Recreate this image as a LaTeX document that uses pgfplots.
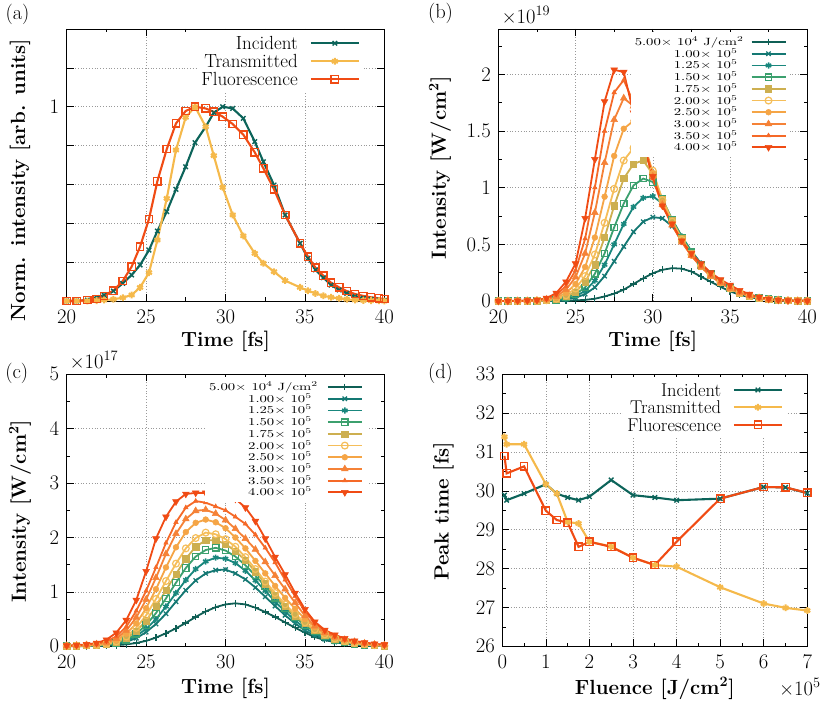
\documentclass[border=0pt]{standalone}
\usepackage{graphicx}
\usepackage{pgfplots}
\usepackage{pgfplotstable}
\pgfplotsset{compat=1.18}

\definecolor{cA}{RGB}{15,95,85}
\definecolor{cB}{RGB}{20,120,115}
\definecolor{cC}{RGB}{25,135,125}
\definecolor{cD}{RGB}{60,160,110}
\definecolor{cE}{RGB}{205,175,80}
\definecolor{cF}{RGB}{245,190,90}
\definecolor{cG}{RGB}{245,165,70}
\definecolor{cH}{RGB}{245,130,55}
\definecolor{cI}{RGB}{245,105,40}
\definecolor{cJ}{RGB}{240,75,20}
\definecolor{inc}{RGB}{12,100,90}
\definecolor{tra}{RGB}{245,185,75}
\definecolor{flu}{RGB}{240,75,20}

\newcommand{\lgt}[1]{\scalebox{1.4}[1]{#1}}
\newcommand{\sq}{\textsuperscript{2}}

\pgfplotsset{
 gp/.style={
  scale only axis, clip=false, height=272pt,
  axis line style={line width=0.9pt},
  tick align=inside, major tick length=7pt, minor tick length=3.5pt,
  tick style={black, line width=0.7pt},
  grid style={gray!80, line width=0.6pt, dash pattern=on 0.8pt off 2pt},
  tick label style={font=\fontsize{20.7}{22}\selectfont},
  /pgf/number format/assume math mode=true,
  label style={font=\bfseries\fontsize{20.5}{24}\selectfont},
  xticklabel style={yshift=-5pt},
  yticklabel style={xshift=-4pt},
  scaled ticks=false,
  legend cell align=right, legend plot pos=right,
 },
 leglong/.style={legend image code/.code={\draw[mark repeat=2,mark phase=2,##1] plot coordinates {(0pt,0pt) (24pt,0pt) (48pt,0pt)};}},
 legshort/.style={legend image code/.code={\draw[mark repeat=2,mark phase=2,##1] plot coordinates {(0pt,0pt) (17pt,0pt) (34pt,0pt)};}},
 sA/.style={color=cA, line width=1.8pt, mark=+, mark size=3.4pt, mark options={solid,line width=1.2pt}},
 sB/.style={color=cB, line width=1.8pt, mark=x, mark size=3.1pt, mark options={solid,line width=1.3pt}},
 sC/.style={color=cC, line width=1.8pt, mark=asterisk, mark size=3.1pt, mark options={solid,line width=1.5pt}},
 sD/.style={color=cD, line width=1.8pt, mark=square, mark size=3.2pt, mark options={solid,line width=1.2pt}},
 sE/.style={color=cE, line width=1.8pt, mark=square*, mark size=3.1pt, mark options={solid,line width=0.5pt}},
 sF/.style={color=cF, line width=1.8pt, mark=o, mark size=3.4pt, mark options={solid,line width=1.2pt}},
 sG/.style={color=cG, line width=1.8pt, mark=*, mark size=2.9pt, mark options={solid,line width=0.5pt}},
 sH/.style={color=cH, line width=1.8pt, mark=triangle*, mark size=3.9pt, mark options={solid,line width=0.5pt}},
 sI/.style={color=cI, line width=1.8pt, mark=triangle*, mark size=2.6pt, mark options={solid,line width=0.5pt}},
 sJ/.style={color=cJ, line width=1.8pt, mark=triangle*, mark size=3.9pt, mark options={solid,rotate=180,line width=0.5pt}},
 sInc/.style={color=inc, line width=2.1pt, mark=x, mark size=3.2pt, mark options={solid,line width=1.4pt}},
 sTra/.style={color=tra, line width=2.1pt, mark=asterisk, mark size=3.4pt, mark options={solid,line width=2pt}},
 sFlu/.style={color=flu, line width=2.1pt, mark=square, mark size=3.7pt, mark options={solid,line width=1.4pt}},
}

\pgfplotstableread{
t s1 s2 s3 s4 s5 s6 s7 s8 s9 s10
20 0 0 0 0 0 0 0 0 0 0
20.62 0 0 0 0 0 0 0 0 0 0
21.25 0 0 0 0 0 0 0 0.001 0.001 0.002
21.88 0 0 0 0 0.001 0.001 0.001 0.002 0.003 0.004
22.5 0 0.001 0.001 0.002 0.002 0.003 0.004 0.005 0.007 0.008
23.12 0 0.002 0.003 0.004 0.005 0.007 0.01 0.015 0.02 0.025
23.75 0 0.005 0.008 0.01 0.015 0.02 0.03 0.04 0.055 0.07
24.38 0.001 0.013 0.02 0.03 0.04 0.05 0.07 0.10 0.13 0.17
25 0.005 0.03 0.04 0.06 0.08 0.11 0.15 0.21 0.27 0.33
25.62 0.01 0.06 0.09 0.12 0.17 0.22 0.30 0.42 0.55 0.73
26.25 0.02 0.12 0.18 0.24 0.32 0.41 0.56 0.78 1.0 1.25
26.88 0.04 0.22 0.32 0.42 0.56 0.69 0.92 1.22 1.50 1.76
27.5 0.065 0.35 0.50 0.65 0.84 0.99 1.28 1.60 1.84 2.04
28.12 0.10 0.48 0.68 0.86 1.08 1.24 1.52 1.79 1.95 2.02
28.75 0.15 0.61 0.83 1.02 1.21 1.35 1.59 1.72 1.75 1.66
29.38 0.20 0.70 0.91 1.08 1.24 1.34 1.42 1.42 1.40 1.38
30 0.245 0.74 0.925 1.05 1.12 1.15 1.13 1.10 1.08 1.10
30.62 0.275 0.73 0.86 0.90 0.90 0.89 0.87 0.85 0.84 0.84
31.25 0.29 0.66 0.72 0.72 0.71 0.70 0.68 0.67 0.67 0.68
31.88 0.285 0.55 0.57 0.56 0.55 0.54 0.53 0.52 0.52 0.53
32.5 0.26 0.44 0.44 0.43 0.42 0.41 0.40 0.40 0.40 0.42
33.12 0.215 0.33 0.33 0.32 0.31 0.31 0.30 0.30 0.31 0.33
33.75 0.17 0.24 0.24 0.24 0.23 0.23 0.22 0.22 0.23 0.25
34.38 0.125 0.17 0.17 0.17 0.165 0.165 0.16 0.16 0.17 0.19
35 0.085 0.11 0.115 0.115 0.11 0.11 0.11 0.11 0.12 0.14
35.62 0.055 0.07 0.075 0.075 0.072 0.072 0.07 0.075 0.08 0.095
36.25 0.035 0.045 0.047 0.047 0.045 0.045 0.045 0.045 0.05 0.06
36.88 0.02 0.027 0.028 0.028 0.027 0.027 0.026 0.027 0.03 0.035
37.5 0.011 0.015 0.015 0.015 0.015 0.015 0.014 0.014 0.015 0.018
38.12 0.006 0.008 0.008 0.008 0.008 0.008 0.008 0.008 0.008 0.009
38.75 0.003 0.004 0.004 0.004 0.004 0.004 0.004 0.004 0.004 0.004
39.38 0.001 0.002 0.002 0.002 0.002 0.002 0.002 0.002 0.002 0.002
40 0 0.001 0.001 0.001 0.001 0.001 0.001 0.001 0.001 0.001
}\tb

\pgfplotstableread{
t s1 s2 s3 s4 s5 s6 s7 s8 s9 s10
20 0 0.003 0.004 0.005 0.006 0.007 0.008 0.009 0.01 0.012
20.62 0 0.005 0.006 0.008 0.009 0.01 0.012 0.014 0.016 0.02
21.25 0.003 0.008 0.01 0.012 0.014 0.016 0.02 0.024 0.028 0.035
21.88 0.005 0.012 0.015 0.018 0.022 0.026 0.032 0.04 0.048 0.06
22.5 0.01 0.02 0.025 0.03 0.035 0.045 0.055 0.07 0.09 0.12
23.12 0.02 0.04 0.05 0.06 0.07 0.09 0.11 0.14 0.18 0.25
23.75 0.035 0.08 0.10 0.12 0.15 0.18 0.23 0.29 0.36 0.48
24.38 0.06 0.15 0.19 0.23 0.28 0.34 0.42 0.53 0.65 0.85
25 0.10 0.26 0.32 0.39 0.47 0.57 0.70 0.86 1.02 1.38
25.62 0.16 0.41 0.50 0.61 0.73 0.87 1.05 1.26 1.45 1.98
26.25 0.24 0.60 0.73 0.88 1.03 1.20 1.45 1.70 1.90 2.38
26.88 0.33 0.82 0.98 1.17 1.33 1.52 1.82 2.07 2.28 2.66
27.5 0.43 1.03 1.22 1.44 1.61 1.80 2.10 2.34 2.55 2.80
28.12 0.54 1.21 1.42 1.65 1.83 1.99 2.27 2.49 2.67 2.82
28.75 0.64 1.34 1.56 1.77 1.95 2.09 2.33 2.51 2.64 2.82
29.38 0.72 1.40 1.63 1.81 1.95 2.06 2.28 2.44 2.57 2.78
30 0.77 1.41 1.61 1.76 1.88 1.97 2.17 2.32 2.50 2.75
30.62 0.79 1.34 1.53 1.65 1.75 1.83 2.00 2.16 2.38 2.71
31.25 0.77 1.23 1.39 1.49 1.58 1.64 1.80 1.98 2.25 2.55
31.88 0.71 1.08 1.21 1.30 1.37 1.42 1.57 1.78 2.05 2.30
32.5 0.63 0.91 1.02 1.10 1.15 1.19 1.34 1.55 1.81 1.98
33.12 0.54 0.74 0.82 0.89 0.94 0.98 1.11 1.30 1.54 1.64
33.75 0.44 0.57 0.64 0.70 0.74 0.77 0.89 1.05 1.22 1.32
34.38 0.34 0.42 0.47 0.53 0.56 0.59 0.69 0.80 0.92 0.98
35 0.25 0.29 0.34 0.39 0.42 0.44 0.50 0.56 0.64 0.68
35.62 0.17 0.20 0.23 0.27 0.29 0.31 0.35 0.37 0.42 0.45
36.25 0.115 0.13 0.15 0.18 0.20 0.22 0.24 0.25 0.28 0.30
36.88 0.075 0.08 0.096 0.12 0.13 0.145 0.16 0.17 0.19 0.21
37.5 0.045 0.048 0.059 0.076 0.086 0.094 0.11 0.12 0.13 0.145
38.12 0.027 0.028 0.034 0.047 0.053 0.061 0.075 0.085 0.09 0.10
38.75 0.015 0.015 0.019 0.028 0.032 0.037 0.05 0.055 0.06 0.07
39.38 0.008 0.008 0.01 0.016 0.019 0.022 0.03 0.035 0.04 0.045
40 0.004 0.004 0.005 0.009 0.01 0.013 0.02 0.023 0.026 0.03
}\tc

\begin{document}
\begin{tikzpicture}
\path[use as bounding box] (0pt,0pt) rectangle (831pt,705pt);

% ---------------- (a)
\begin{axis}[gp, leglong, at={(66.7pt,404pt)}, anchor=south west, width=317.7pt,
 xmin=20, xmax=40, ymin=0, ymax=1.4,
 xtick={20,25,30,35,40}, minor xtick={22.5,27.5,32.5,37.5},
 ytick={0,0.2,0.4,0.6,0.8,1,1.2,1.4}, yticklabels={,,,,,1,,},
 xmajorgrids, ymajorgrids,
 xlabel={Time [fs]}, ylabel={Norm. intensity [arb. units]},
 xlabel style={at={(axis description cs:0.5,-0.147)}, anchor=center},
 ylabel style={at={(axis description cs:-0.147,0.445)}, anchor=center},
 legend style={draw=none, fill=white, inner sep=4pt, at={(axis description cs:0.936,0.996)}, anchor=north east,
   font=\fontsize{19}{21}\selectfont, nodes={inner sep=0pt, text height=15.5pt, text depth=2.5pt},
   /tikz/every odd column/.append style={column sep=12pt}},
]
\addplot[sInc] coordinates {
(20.00,0) (20.63,0) (21.30,0.005) (21.89,0.017) (22.35,0.031) (22.94,0.051) (23.53,0.091) (24.09,0.134)
(24.62,0.185) (25.18,0.262) (25.71,0.360) (26.30,0.460) (26.88,0.575) (27.49,0.691) (28.08,0.815) (28.75,0.897)
(29.26,0.969) (29.82,1.0) (30.45,0.991) (31.12,0.940) (31.84,0.820) (32.38,0.717) (33.05,0.597) (33.75,0.443)
(34.69,0.297) (35.19,0.220) (35.66,0.160) (36.16,0.120) (36.64,0.082) (37.15,0.057) (37.63,0.039) (38.15,0.022)
(38.68,0.014) (39.16,0.009) (39.66,0.005) (40.0,0.003)};
\addlegendentry{Incident}
\addplot[sTra] coordinates {
(20.00,0) (20.63,0) (21.30,0) (21.89,0.002) (22.35,0.005) (22.94,0.009) (23.53,0.017) (24.09,0.031)
(24.62,0.070) (25.18,0.146) (25.71,0.314) (26.30,0.528) (26.88,0.777) (27.49,0.945) (28.08,1.0) (28.75,0.897)
(29.26,0.748) (29.82,0.585) (30.45,0.443) (31.12,0.335) (31.84,0.245) (32.38,0.194) (33.05,0.151) (33.75,0.105)
(34.69,0.070) (35.19,0.053) (35.66,0.039) (36.16,0.027) (36.64,0.019) (37.15,0.014) (37.63,0.009) (38.15,0.005)
(38.68,0.003) (39.16,0.002) (39.66,0.001) (40.0,0)};
\addlegendentry{Transmitted}
\addplot[sFlu] coordinates {
(20.00,0) (20.63,0) (21.30,0.005) (21.89,0.010) (22.35,0.026) (22.94,0.053) (23.53,0.103) (24.09,0.177)
(24.62,0.280) (25.18,0.422) (25.71,0.617) (26.30,0.782) (26.88,0.914) (27.49,0.978) (28.08,1.0) (28.75,0.991)
(29.26,0.974) (29.82,0.949) (30.45,0.911) (31.12,0.856) (31.84,0.765) (32.38,0.683) (33.05,0.575) (33.75,0.443)
(34.69,0.297) (35.19,0.228) (35.66,0.172) (36.16,0.130) (36.64,0.094) (37.15,0.070) (37.63,0.051) (38.15,0.036)
(38.68,0.026) (39.16,0.019) (39.66,0.014) (40.0,0.010)};
\addlegendentry{Fluorescence}
\end{axis}

% ---------------- (b)
\begin{axis}[gp, legshort, at={(498.3pt,404pt)}, anchor=south west, width=309pt,
 xmin=20, xmax=40, ymin=0, ymax=2.4,
 xtick={20,25,30,35,40}, minor xtick={22.5,27.5,32.5,37.5},
 ytick={0,0.5,1,1.5,2}, minor ytick={0.25,0.75,1.25,1.75,2.25},
 xmajorgrids, ymajorgrids,
 xlabel={Time [fs]}, ylabel={Intensity [W/cm\sq]},
 xlabel style={at={(axis description cs:0.5,-0.147)}, anchor=center},
 ylabel style={at={(axis description cs:-0.189,0.49)}, anchor=center},
 legend style={draw=none, fill=white, inner sep=4pt, at={(axis description cs:0.946,0.989)}, anchor=north east,
   font=\fontsize{10.5}{11.7}\selectfont, nodes={inner sep=0pt, text height=9.35pt, text depth=2.35pt},
   /tikz/every odd column/.append style={column sep=7pt}},
]
\addplot[sA] table[x=t,y=s1]{\tb}; \addlegendentry{\lgt{5.00× 10\textsuperscript{4} J/cm\textsuperscript{2}}}
\addplot[sB] table[x=t,y=s2]{\tb}; \addlegendentry{\lgt{1.00× 10\textsuperscript{5}\hspace*{4.3pt}}}
\addplot[sC] table[x=t,y=s3]{\tb}; \addlegendentry{\lgt{1.25× 10\textsuperscript{5}\hspace*{4.3pt}}}
\addplot[sD] table[x=t,y=s4]{\tb}; \addlegendentry{\lgt{1.50× 10\textsuperscript{5}\hspace*{4.3pt}}}
\addplot[sE] table[x=t,y=s5]{\tb}; \addlegendentry{\lgt{1.75× 10\textsuperscript{5}\hspace*{4.3pt}}}
\addplot[sF] table[x=t,y=s6]{\tb}; \addlegendentry{\lgt{2.00× 10\textsuperscript{5}\hspace*{4.3pt}}}
\addplot[sG] table[x=t,y=s7]{\tb}; \addlegendentry{\lgt{2.50× 10\textsuperscript{5}\hspace*{4.3pt}}}
\addplot[sH] table[x=t,y=s8]{\tb}; \addlegendentry{\lgt{3.00× 10\textsuperscript{5}\hspace*{4.3pt}}}
\addplot[sI] table[x=t,y=s9]{\tb}; \addlegendentry{\lgt{3.50× 10\textsuperscript{5}\hspace*{4.3pt}}}
\addplot[sJ] table[x=t,y=s10]{\tb}; \addlegendentry{\lgt{4.00× 10\textsuperscript{5}\hspace*{4.3pt}}}
\end{axis}

% ---------------- (c)
\begin{axis}[gp, legshort, at={(66.7pt,58.7pt)}, anchor=south west, width=317.7pt,
 xmin=20, xmax=40, ymin=0, ymax=5,
 xtick={20,25,30,35,40}, minor xtick={22.5,27.5,32.5,37.5},
 ytick={0,1,2,3,4,5}, minor ytick={0.5,1.5,2.5,3.5,4.5},
 xmajorgrids, ymajorgrids,
 xlabel={Time [fs]}, ylabel={Intensity [W/cm\sq]},
 xlabel style={at={(axis description cs:0.5,-0.154)}, anchor=center},
 ylabel style={at={(axis description cs:-0.147,0.497)}, anchor=center},
 legend style={draw=none, fill=white, inner sep=4pt, at={(axis description cs:0.945,0.990)}, anchor=north east,
   font=\fontsize{10.5}{11.7}\selectfont, nodes={inner sep=0pt, text height=9.35pt, text depth=2.35pt},
   /tikz/every odd column/.append style={column sep=9pt}},
]
\addplot[sA] table[x=t,y=s1]{\tc}; \addlegendentry{\lgt{5.00× 10\textsuperscript{4} J/cm\textsuperscript{2}}}
\addplot[sB] table[x=t,y=s2]{\tc}; \addlegendentry{\lgt{1.00× 10\textsuperscript{5}\hspace*{4.3pt}}}
\addplot[sC] table[x=t,y=s3]{\tc}; \addlegendentry{\lgt{1.25× 10\textsuperscript{5}\hspace*{4.3pt}}}
\addplot[sD] table[x=t,y=s4]{\tc}; \addlegendentry{\lgt{1.50× 10\textsuperscript{5}\hspace*{4.3pt}}}
\addplot[sE] table[x=t,y=s5]{\tc}; \addlegendentry{\lgt{1.75× 10\textsuperscript{5}\hspace*{4.3pt}}}
\addplot[sF] table[x=t,y=s6]{\tc}; \addlegendentry{\lgt{2.00× 10\textsuperscript{5}\hspace*{4.3pt}}}
\addplot[sG] table[x=t,y=s7]{\tc}; \addlegendentry{\lgt{2.50× 10\textsuperscript{5}\hspace*{4.3pt}}}
\addplot[sH] table[x=t,y=s8]{\tc}; \addlegendentry{\lgt{3.00× 10\textsuperscript{5}\hspace*{4.3pt}}}
\addplot[sI] table[x=t,y=s9]{\tc}; \addlegendentry{\lgt{3.50× 10\textsuperscript{5}\hspace*{4.3pt}}}
\addplot[sJ] table[x=t,y=s10]{\tc}; \addlegendentry{\lgt{4.00× 10\textsuperscript{5}\hspace*{4.3pt}}}
\end{axis}

% ---------------- (d)
\begin{axis}[gp, leglong, at={(502.3pt,58.7pt)}, anchor=south west, width=305pt,
 xmin=0, xmax=7, ymin=26, ymax=33,
 xtick={0,1,2,3,4,5,6,7}, minor x tick num=1,
 ytick={26,27,28,29,30,31,32,33}, minor y tick num=1,
 xmajorgrids, ymajorgrids,
 xlabel={Fluence [J/cm\sq]}, ylabel={Peak time [fs]},
 xlabel style={at={(axis description cs:0.5,-0.154)}, anchor=center},
 ylabel style={at={(axis description cs:-0.193,0.495)}, anchor=center},
 legend style={draw=none, fill=white, inner sep=4pt, at={(axis description cs:0.934,0.990)}, anchor=north east,
   font=\fontsize{18.5}{20}\selectfont, nodes={inner sep=0pt, text height=15pt, text depth=2.4pt},
   /tikz/every odd column/.append style={column sep=11.7pt}},
]
\addplot[sInc] coordinates {(0.05,29.89) (0.1,29.76) (0.5,29.93) (1,30.17) (1.25,29.93) (1.5,29.83) (1.75,29.76) (2,29.85)
 (2.5,30.28) (3,29.89) (3.5,29.83) (4,29.76) (5,29.80) (6,30.10) (6.5,30.09) (7,29.94)};
\addlegendentry{Incident}
\addplot[sTra] coordinates {(0.05,31.39) (0.1,31.20) (0.5,31.20) (1,30.17) (1.25,29.93) (1.5,29.2) (1.75,29.16) (2,28.69)
 (2.5,28.57) (3,28.28) (3.5,28.09) (4,28.05) (5,27.52) (6,27.10) (6.5,26.99) (7,26.92)};
\addlegendentry{Transmitted}
\addplot[sFlu] coordinates {(0.05,30.90) (0.1,30.45) (0.5,30.63) (1,29.49) (1.25,29.25) (1.5,29.18) (1.75,28.56) (2,28.69)
 (2.5,28.56) (3,28.28) (3.5,28.09) (4,28.69) (5,29.80) (6,30.10) (6.5,30.09) (7,29.95)};
\addlegendentry{Fluorescence}
\end{axis}

\begin{scope}[every node/.style={font=\fontsize{20.5}{22}\selectfont}]
\node at (17.5pt,691pt) {(a)};
\node at (440.5pt,692pt) {(b)};
\node at (16.7pt,332pt) {(c)};
\node at (440.5pt,332pt) {(d)};
\node at (526pt,690pt) {×10\textsuperscript{19}};
\node at (94pt,345pt) {×10\textsuperscript{17}};
\node at (800pt,18pt) {×10\textsuperscript{5}};
\end{scope}
\end{tikzpicture}
\end{document}
